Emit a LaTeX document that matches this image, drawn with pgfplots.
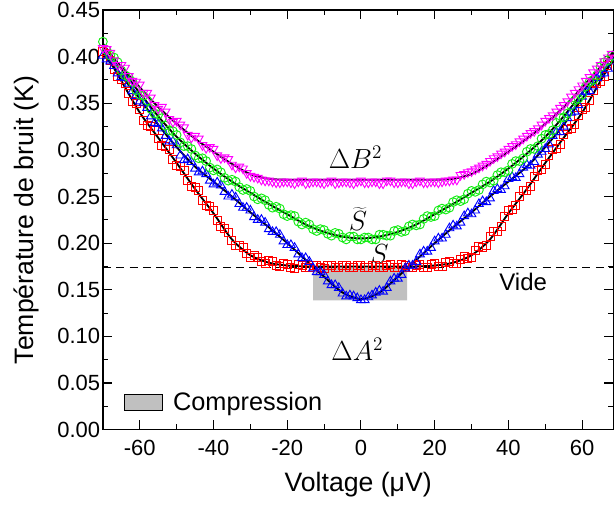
\documentclass[border=0pt]{standalone}
\usepackage{fontspec}
\setmainfont{Liberation Sans}
\usepackage{pgfplots}
\pgfplotsset{compat=1.18}
\usepackage{pgfplotstable}

\definecolor{cmag}{RGB}{255,0,255}
\definecolor{cgre}{RGB}{20,235,20}
\definecolor{cred}{RGB}{255,0,0}
\definecolor{cblu}{RGB}{0,0,255}
\definecolor{cgray}{RGB}{192,192,192}

% measured points: x  DeltaB^2  S~  S  DeltaA^2
\pgfplotstableread{
x m g r b
-70 0.409 0.416 0.405 0.401
-69 0.408 0.407 0.403 0.397
-68 0.404 0.401 0.396 0.395
-67 0.396 0.399 0.386 0.390
-66 0.391 0.394 0.379 0.382
-65 0.391 0.385 0.376 0.378
-64 0.388 0.380 0.371 0.377
-63 0.379 0.378 0.360 0.371
-62 0.374 0.373 0.352 0.363
-61 0.373 0.364 0.350 0.358
-60 0.370 0.359 0.343 0.352
-59 0.361 0.358 0.332 0.350
-58 0.361 0.353 0.326 0.345
-57 0.356 0.344 0.325 0.336
-56 0.348 0.339 0.321 0.329
-55 0.344 0.338 0.312 0.328
-54 0.346 0.334 0.305 0.323
-53 0.341 0.326 0.304 0.315
-52 0.333 0.321 0.300 0.309
-51 0.330 0.320 0.290 0.309
-50 0.331 0.316 0.283 0.305
-49 0.327 0.308 0.282 0.294
-48 0.324 0.304 0.278 0.289
-47 0.316 0.304 0.267 0.290
-46 0.313 0.301 0.261 0.287
-45 0.315 0.294 0.260 0.280
-44 0.312 0.291 0.256 0.276
-43 0.305 0.291 0.246 0.277
-42 0.302 0.288 0.240 0.274
-41 0.303 0.281 0.239 0.267
-40 0.301 0.278 0.235 0.263
-39 0.294 0.279 0.224 0.265
-38 0.291 0.276 0.218 0.262
-37 0.292 0.270 0.216 0.255
-36 0.290 0.267 0.211 0.250
-35 0.284 0.268 0.203 0.252
-34 0.281 0.266 0.198 0.249
-33 0.282 0.260 0.198 0.242
-32 0.280 0.257 0.195 0.238
-31 0.275 0.258 0.189 0.238
-30 0.272 0.256 0.185 0.235
-29 0.271 0.250 0.187 0.228
-28 0.270 0.247 0.185 0.225
-27 0.268 0.248 0.180 0.225
-26 0.267 0.246 0.178 0.222
-25 0.267 0.241 0.181 0.215
-24 0.266 0.238 0.180 0.212
-23 0.265 0.239 0.176 0.212
-22 0.265 0.237 0.175 0.209
-21 0.266 0.231 0.178 0.202
-20 0.266 0.229 0.177 0.198
-19 0.265 0.230 0.174 0.198
-18 0.264 0.229 0.173 0.195
-17 0.266 0.223 0.177 0.188
-16 0.267 0.220 0.176 0.184
-15 0.264 0.222 0.174 0.184
-14 0.265 0.220 0.174 0.180
-13 0.266 0.215 0.176 0.173
-12 0.266 0.213 0.176 0.169
-11 0.265 0.215 0.174 0.169
-10 0.264 0.214 0.173 0.166
-9 0.266 0.210 0.176 0.159
-8 0.267 0.208 0.176 0.155
-7 0.264 0.211 0.174 0.155
-6 0.265 0.210 0.174 0.152
-5 0.266 0.206 0.176 0.146
-4 0.266 0.204 0.176 0.143
-3 0.265 0.207 0.174 0.144
-2 0.264 0.207 0.174 0.143
-1 0.266 0.204 0.176 0.141
0 0.267 0.204 0.176 0.139
1 0.265 0.206 0.174 0.139
2 0.265 0.206 0.174 0.142
3 0.266 0.204 0.176 0.144
4 0.266 0.204 0.176 0.147
5 0.264 0.209 0.174 0.149
6 0.264 0.209 0.174 0.148
7 0.267 0.208 0.176 0.152
8 0.267 0.208 0.177 0.159
9 0.265 0.213 0.174 0.162
10 0.265 0.214 0.174 0.162
11 0.266 0.212 0.177 0.166
12 0.266 0.213 0.176 0.173
13 0.264 0.218 0.174 0.176
14 0.264 0.220 0.174 0.176
15 0.266 0.219 0.176 0.180
16 0.267 0.220 0.177 0.188
17 0.265 0.226 0.174 0.191
18 0.265 0.229 0.174 0.191
19 0.266 0.228 0.177 0.195
20 0.266 0.229 0.178 0.202
21 0.265 0.235 0.175 0.205
22 0.266 0.237 0.175 0.205
23 0.267 0.236 0.179 0.209
24 0.267 0.238 0.180 0.216
25 0.268 0.244 0.178 0.219
26 0.268 0.246 0.178 0.218
27 0.273 0.245 0.183 0.222
28 0.274 0.247 0.186 0.229
29 0.276 0.253 0.184 0.232
30 0.277 0.256 0.185 0.231
31 0.279 0.255 0.192 0.235
32 0.281 0.257 0.196 0.242
33 0.283 0.263 0.195 0.245
34 0.285 0.266 0.198 0.244
35 0.288 0.265 0.207 0.248
36 0.291 0.267 0.212 0.256
37 0.293 0.273 0.213 0.258
38 0.296 0.276 0.218 0.257
39 0.298 0.276 0.229 0.261
40 0.301 0.278 0.235 0.269
41 0.304 0.285 0.236 0.271
42 0.306 0.288 0.240 0.270
43 0.309 0.288 0.250 0.274
44 0.312 0.291 0.256 0.281
45 0.315 0.298 0.257 0.284
46 0.318 0.301 0.261 0.283
47 0.320 0.301 0.272 0.287
48 0.323 0.304 0.278 0.295
49 0.327 0.312 0.279 0.298
50 0.331 0.316 0.284 0.301
51 0.334 0.317 0.294 0.306
52 0.337 0.321 0.300 0.315
53 0.341 0.329 0.301 0.319
54 0.345 0.334 0.306 0.319
55 0.348 0.335 0.316 0.325
56 0.352 0.339 0.322 0.334
57 0.357 0.348 0.323 0.340
58 0.361 0.353 0.327 0.341
59 0.365 0.355 0.337 0.348
60 0.369 0.359 0.343 0.357
61 0.374 0.368 0.346 0.362
62 0.378 0.373 0.353 0.363
63 0.383 0.375 0.364 0.368
64 0.387 0.380 0.371 0.377
65 0.391 0.389 0.373 0.381
66 0.395 0.394 0.379 0.382
67 0.399 0.396 0.390 0.387
68 0.403 0.401 0.397 0.395
}\datatab

% fitted curves
\pgfplotstableread{
x m g r b
-70 0.411 0.414 0.408 0.403
-65 0.389 0.387 0.374 0.379
-60 0.367 0.361 0.340 0.355
-55 0.346 0.336 0.313 0.327
-50 0.328 0.314 0.286 0.303
-45 0.312 0.296 0.258 0.282
-40 0.298 0.280 0.232 0.266
-35 0.285 0.266 0.204 0.250
-30 0.274 0.254 0.187 0.233
-25 0.269 0.242 0.179 0.217
-20 0.268 0.231 0.176 0.200
-15 0.268 0.220 0.175 0.182
-10 0.268 0.212 0.175 0.164
-5 0.268 0.207 0.175 0.147
0 0.268 0.205 0.175 0.140
5 0.268 0.207 0.175 0.147
10 0.268 0.212 0.175 0.164
15 0.268 0.220 0.175 0.182
20 0.268 0.231 0.176 0.200
25 0.269 0.242 0.179 0.217
30 0.274 0.254 0.187 0.233
35 0.285 0.266 0.204 0.250
40 0.298 0.280 0.232 0.266
45 0.312 0.296 0.258 0.282
50 0.328 0.314 0.286 0.303
55 0.346 0.336 0.313 0.327
60 0.367 0.361 0.340 0.355
65 0.389 0.387 0.374 0.379
70 0.411 0.414 0.408 0.403
}\fittab

\begin{document}
\begin{tikzpicture}
\begin{axis}[
  scale only axis, width=383.25pt, height=315pt,
  xmin=-70, xmax=68.5, ymin=0, ymax=0.45,
  xtick={-60,-40,-20,0,20,40,60},
  minor xtick={-70,-50,-30,-10,10,30,50},
  ytick={0,0.05,0.1,0.15,0.2,0.25,0.3,0.35,0.4,0.45},
  minor ytick={0.025,0.075,0.125,0.175,0.225,0.275,0.325,0.375,0.425},
  tick align=inside,
  major tick length=7pt, minor tick length=4pt,
  every tick/.style={black, line width=0.8pt},
  axis line style={line width=0.9pt},
  /pgf/number format/assume math mode=true,
  yticklabel style={/pgf/number format/fixed, /pgf/number format/fixed zerofill, /pgf/number format/precision=2, xshift=1.5pt},
  ticklabel style={font=\fontsize{16.5}{18}\selectfont},
  xticklabel style={yshift=-4pt},
  label style={font=\fontsize{20}{23}\selectfont},
  xlabel={Voltage (μV)}, ylabel={Température de bruit (K)},
  xlabel style={at={(axis description cs:0.5,-0.131)}, anchor=center},
  ylabel style={at={(axis description cs:-0.15,0.5)}, anchor=center},
  legend style={at={(axis cs:-65.3,0.012)}, anchor=south west, draw=none, fill=none,
    font=\fontsize{19}{22}\selectfont, legend cell align=left},
  legend image code/.code={\draw[fill=cgray, draw=black, line width=0.5pt] (0pt,-6pt) rectangle (28pt,6.5pt);},
]
\coordinate (SW) at (rel axis cs:0,0);
\coordinate (NE) at (rel axis cs:1,1);

\addplot[fill=cgray, draw=none, no marks] coordinates {(-13,0.1385) (12.5,0.1385) (12.5,0.174) (-13,0.174) (-13,0.1385)};
\addlegendentry{\hspace{6pt}Compression}

\addplot[forget plot, cred, only marks, mark=square, mark size=3pt, mark options={line width=0.7pt}] table[x=x,y=r]{\datatab};
\addplot[forget plot, cblu, only marks, mark=triangle, mark size=3.8pt, mark options={line width=0.7pt}] table[x=x,y=b]{\datatab};
\addplot[forget plot, cgre, only marks, mark=o, mark size=3.3pt, mark options={line width=0.7pt}] table[x=x,y=g]{\datatab};
\addplot[forget plot, cmag, only marks, mark=triangle, mark size=3.8pt, mark options={line width=0.7pt, rotate=180}] table[x=x,y=m]{\datatab};

\addplot[forget plot, no marks, black, line width=1.4pt, smooth] table[x=x,y=r]{\fittab};
\addplot[forget plot, no marks, black, line width=1.4pt, smooth] table[x=x,y=b]{\fittab};
\addplot[forget plot, no marks, black, line width=1.4pt, smooth] table[x=x,y=g]{\fittab};
\addplot[forget plot, no marks, black, line width=1.4pt, smooth] table[x=x,y=m]{\fittab};

\addplot[forget plot, no marks, black, line width=0.9pt, dash pattern=on 6pt off 4pt] coordinates {(-70,0.174) (70,0.174)};

\node at (axis cs:-1.5,0.292) {\fontsize{22}{24}\selectfont $\Delta B^2$};
\node at (axis cs:-0.8,0.226) {\fontsize{22}{24}\selectfont $\widetilde{S}$};
\node at (axis cs:5,0.188) {\fontsize{22}{24}\selectfont $S$};
\node at (axis cs:-1,0.086) {\fontsize{22}{24}\selectfont $\Delta A^2$};
\node at (axis cs:44,0.158) {\fontsize{18}{20}\selectfont Vide};
\end{axis}
\pgfresetboundingbox
\path[use as bounding box] ([shift={(-77.25pt,-58.5pt)}]SW) rectangle ([shift={(0.4pt,7.5pt)}]NE);
\end{tikzpicture}
\end{document}
